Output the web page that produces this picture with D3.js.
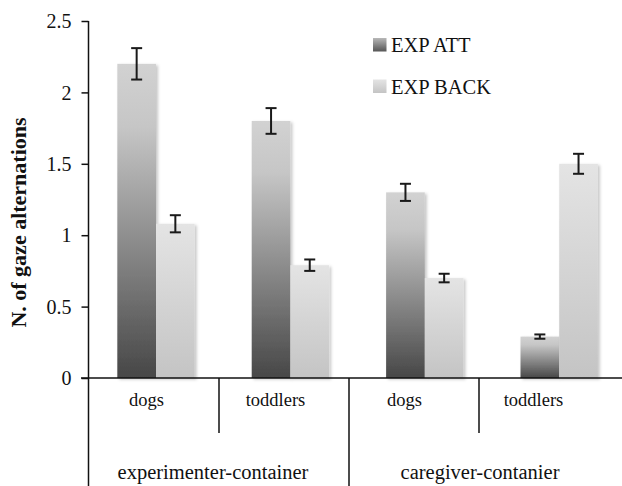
<!DOCTYPE html>
<html>
<head>
<meta charset="utf-8">
<script src="https://cdn.jsdelivr.net/npm/d3@7/dist/d3.min.js"></script>
<style>
  html, body { margin: 0; padding: 0; background: #fff; }
  svg { display: block; }
  text { font-family: "Liberation Serif", "Times New Roman", serif; fill: #111; }
</style>
</head>
<body>
<svg id="chart" width="622" height="486"></svg>
<script>
// ---- data ----
const groups = ["experimenter-container", "caregiver-contanier"];
const categories = ["dogs", "toddlers", "dogs", "toddlers"];
const categoryGroup = [0, 0, 1, 1];
const series = ["EXP ATT", "EXP BACK"];
const expAtt = [2.2, 1.8, 1.3, 0.29];
const expAttErr = [0.11, 0.09, 0.06, 0.015];
const expBack = [1.08, 0.79, 0.7, 1.5];
const expBackErr = [0.06, 0.04, 0.03, 0.07];
const yTicks = [0, 0.5, 1, 1.5, 2, 2.5];
const yTitle = "N. of gaze alternations";

const values = [expAtt, expBack];
const errs = [expAttErr, expBackErr];

const svg = d3.select("#chart");
const W = 622, H = 486;

const y = d3.scaleLinear().domain([0, 2.5]).range([378, 21]);
const idx = d3.range(categories.length);
// bar placement band
const xBar = d3.scaleBand().domain(idx).range([88.8, 626.4]).paddingInner(0).paddingOuter(0);
const xSeries = d3.scaleBand().domain(series).range([0, xBar.bandwidth()]).paddingInner(0).paddingOuter(0.737);
// axis separators and labels
const xAxisBand = d3.scaleBand().domain(idx).range([89, 609]);
const xLabel = d3.scaleBand().domain(idx).range([82, 598]);
const xGroup = d3.scaleBand().domain([0, 1]).range([89, 609]);

// ---- defs ----
const defs = svg.append("defs");
const gAtt = defs.append("linearGradient").attr("id", "gradAtt").attr("x1", 0).attr("y1", 0).attr("x2", 0).attr("y2", 1);
[[0, "#d2d2d2"], [0.2, "#c6c6c6"], [1, "#474747"]].forEach(([o, c]) => gAtt.append("stop").attr("offset", o).attr("stop-color", c));
const gBack = defs.append("linearGradient").attr("id", "gradBack").attr("x1", 0).attr("y1", 0).attr("x2", 0).attr("y2", 1);
[[0, "#e4e4e4"], [1, "#c4c4c4"]].forEach(([o, c]) => gBack.append("stop").attr("offset", o).attr("stop-color", c));
const gLegAtt = defs.append("linearGradient").attr("id", "gradLegAtt").attr("x1", 0).attr("y1", 0).attr("x2", 0).attr("y2", 1);
[[0, "#b8b8b8"], [1, "#555"]].forEach(([o, c]) => gLegAtt.append("stop").attr("offset", o).attr("stop-color", c));
const filt = defs.append("filter").attr("id", "shadow").attr("x", "-20%").attr("y", "-10%").attr("width", "150%").attr("height", "130%");
filt.append("feDropShadow").attr("dx", 2).attr("dy", 1.5).attr("stdDeviation", 1.8)
  .attr("flood-color", "#000").attr("flood-opacity", 0.22);

const fills = ["url(#gradAtt)", "url(#gradBack)"];

// ---- bars ----
const barsG = svg.append("g");
series.forEach((s, si) => {
  barsG.selectAll(".bar" + si).data(idx).enter().append("rect")
    .attr("x", i => xBar(i) + xSeries(s))
    .attr("width", xSeries.bandwidth())
    .attr("y", i => y(values[si][i]))
    .attr("height", i => y(0) - y(values[si][i]))
    .attr("fill", fills[si])
    .attr("filter", "url(#shadow)");
});

// ---- error bars ----
const errG = svg.append("g").attr("stroke", "#1a1a1a").attr("stroke-width", 2);
series.forEach((s, si) => {
  idx.forEach(i => {
    const cx = xBar(i) + xSeries(s) + xSeries.bandwidth() / 2;
    const v = values[si][i], e = errs[si][i];
    const y1 = y(v + e), y2 = y(v - e);
    errG.append("line").attr("x1", cx).attr("x2", cx).attr("y1", y1).attr("y2", y2);
    errG.append("line").attr("x1", cx - 5.5).attr("x2", cx + 5.5).attr("y1", y1).attr("y2", y1);
    errG.append("line").attr("x1", cx - 5.5).attr("x2", cx + 5.5).attr("y1", y2).attr("y2", y2);
  });
});

// ---- y axis ----
const yAxis = d3.axisLeft(y).tickValues(yTicks).tickFormat(d3.format("")).tickSizeOuter(0).tickSize(7);
const yg = svg.append("g").attr("transform", "translate(88.5,0)").call(yAxis);
yg.select(".domain").remove();
yg.selectAll(".tick line").attr("stroke", "#111").attr("stroke-width", 1.5);
yg.selectAll(".tick text").attr("font-size", 20).attr("x", -17).attr("dy", "0.33em")
  .style("font-family", "Liberation Serif, serif").attr("fill", "#111");
// y axis line extends to bottom
svg.append("line").attr("x1", 88.5).attr("x2", 88.5).attr("y1", y(2.5)).attr("y2", H)
  .attr("stroke", "#111").attr("stroke-width", 1.5);

// ---- x axis line ----
svg.append("line").attr("x1", 81).attr("x2", W).attr("y1", y(0)).attr("y2", y(0))
  .attr("stroke", "#111").attr("stroke-width", 1.5);

// category separators (short) and group separator (long)
idx.slice(1).forEach(i => {
  const xs = xAxisBand(i);
  const isGroupBoundary = categoryGroup[i] !== categoryGroup[i - 1];
  svg.append("line").attr("x1", xs).attr("x2", xs).attr("y1", y(0)).attr("y2", isGroupBoundary ? H : 433)
    .attr("stroke", "#111").attr("stroke-width", 1.5);
});

// category labels
svg.append("g").selectAll("text").data(idx).enter().append("text")
  .attr("x", i => xLabel(i) + xLabel.bandwidth() / 2)
  .attr("y", 406)
  .attr("text-anchor", "middle")
  .attr("font-size", 18.5)
  .text(i => categories[i]);

// group labels
svg.append("g").selectAll("text").data([0, 1]).enter().append("text")
  .attr("x", g => xGroup(g) + xGroup.bandwidth() / 2 - (g === 0 ? 6 : -1))
  .attr("y", 479)
  .attr("text-anchor", "middle")
  .attr("font-size", 20.5)
  .text(g => groups[g]);

// y title
svg.append("text")
  .attr("transform", "translate(26,222.5) rotate(-90)")
  .attr("text-anchor", "middle")
  .attr("font-size", 22)
  .attr("font-weight", "bold")
  .text(yTitle);

// ---- legend ----
const legendFills = ["url(#gradLegAtt)", "url(#gradBack)"];
const leg = svg.append("g");
series.forEach((s, si) => {
  const ly = 38 + si * 41.5;
  leg.append("rect").attr("x", 373).attr("y", ly).attr("width", 13.5).attr("height", 13.5).attr("fill", legendFills[si]);
  leg.append("text").attr("x", 391).attr("y", ly + 14).attr("font-size", 20.5).text(s);
});
</script>
</body>
</html>
